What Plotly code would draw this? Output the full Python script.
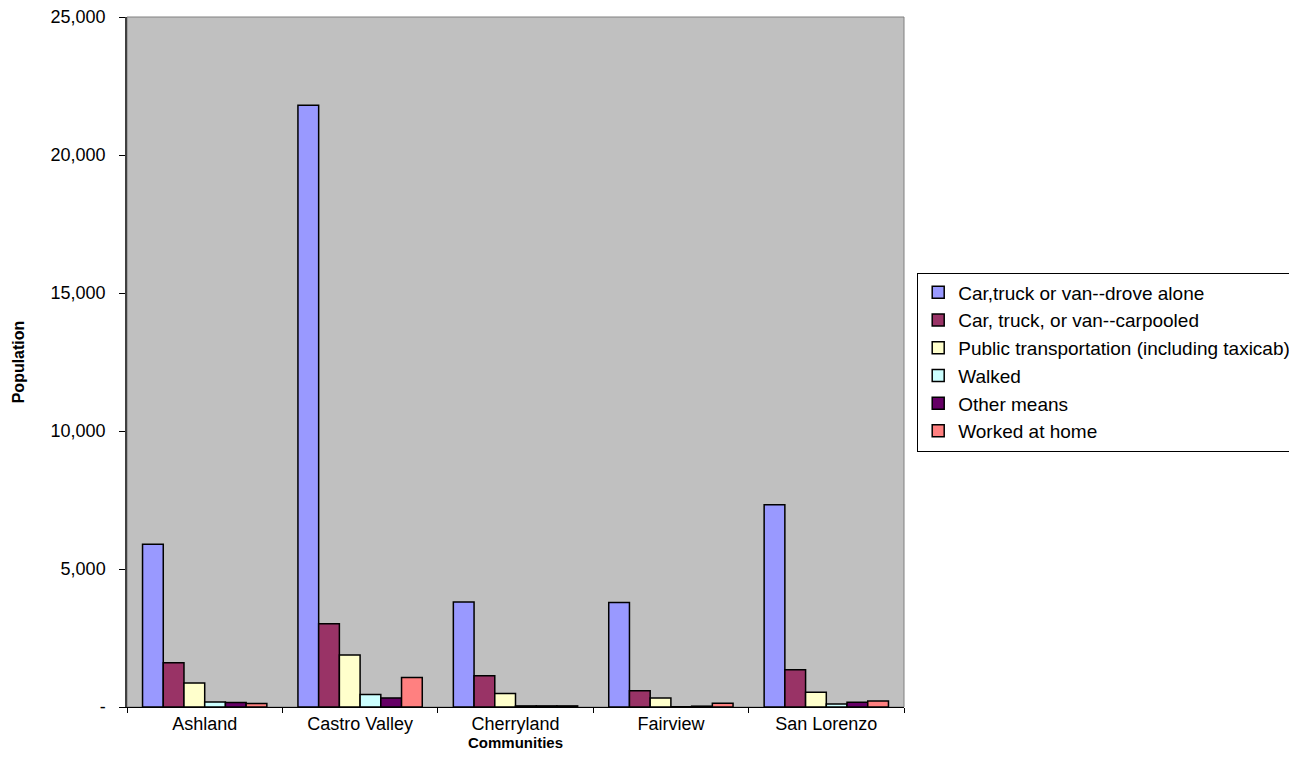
import plotly.graph_objects as go

communities = ["Ashland", "Castro Valley", "Cherryland", "Fairview", "San Lorenzo"]
series_names = [
    "Car,truck or van--drove alone",
    "Car, truck, or van--carpooled",
    "Public transportation (including taxicab)",
    "Walked",
    "Other means",
    "Worked at home",
]
drove_alone = [5900, 21800, 3800, 3790, 7330]
carpooled = [1600, 3020, 1130, 590, 1350]
public_transport = [870, 1880, 490, 330, 530]
walked = [180, 450, 40, 10, 110]
other_means = [160, 330, 40, 30, 170]
worked_home = [130, 1070, 40, 140, 220]
series_values = [drove_alone, carpooled, public_transport, walked, other_means, worked_home]
colors = ["#9999FF", "#993366", "#FFFFCC", "#CCFFFF", "#660066", "#FF8080"]

y_tickvals = [0, 5000, 10000, 15000, 20000, 25000]
y_ticktext = ["-", "5,000", "10,000", "15,000", "20,000", "25,000"]

fig = go.Figure()
for name, vals, col in zip(series_names, series_values, colors):
    fig.add_trace(go.Bar(
        x=communities, y=vals, name=name,
        marker=dict(color=col, line=dict(color="black", width=1.5)),
    ))

FAM = "Arial, Liberation Sans, sans-serif"
fig.update_layout(
    width=1297, height=780,
    margin=dict(l=119, r=397, t=9, b=81),
    paper_bgcolor="white",
    plot_bgcolor="#C0C0C0",
    barmode="group",
    bargap=0.2,
    bargroupgap=0,
    font=dict(family=FAM, size=18, color="black"),
    showlegend=True,
    legend=dict(
        x=1.017, y=0.5, xanchor="left", yanchor="middle",
        bgcolor="white", bordercolor="black", borderwidth=1,
        font=dict(family=FAM, size=19, color="black"),
        tracegroupgap=0, itemwidth=30,
    ),
    xaxis=dict(
        title=dict(text="<b>Communities</b>", font=dict(family=FAM, size=15), standoff=4),
        showline=True, linecolor="black", linewidth=1,
        ticks="outside", tickson="boundaries", ticklen=5, tickcolor="black",
        tickfont=dict(family=FAM, size=18),
        showgrid=False,
    ),
    yaxis=dict(
        title=dict(text="<b>Population</b>", font=dict(family=FAM, size=16), standoff=22),
        range=[0, 25000],
        tickvals=y_tickvals, ticktext=y_ticktext,
        tickfont=dict(family=FAM, size=18),
        ticklabeloverflow="allow",
        ticklabelstandoff=10,
        automargin="left",
        showline=True, linecolor="#404040", linewidth=1.5,
        ticks="outside", ticklen=6, tickcolor="black",
        showgrid=False, zeroline=False,
    ),
)
fig.add_shape(type="rect", xref="paper", yref="paper", x0=0, y0=0, x1=1, y1=1,
              line=dict(color="#808080", width=1), layer="below")
fig.write_html("out.html")
